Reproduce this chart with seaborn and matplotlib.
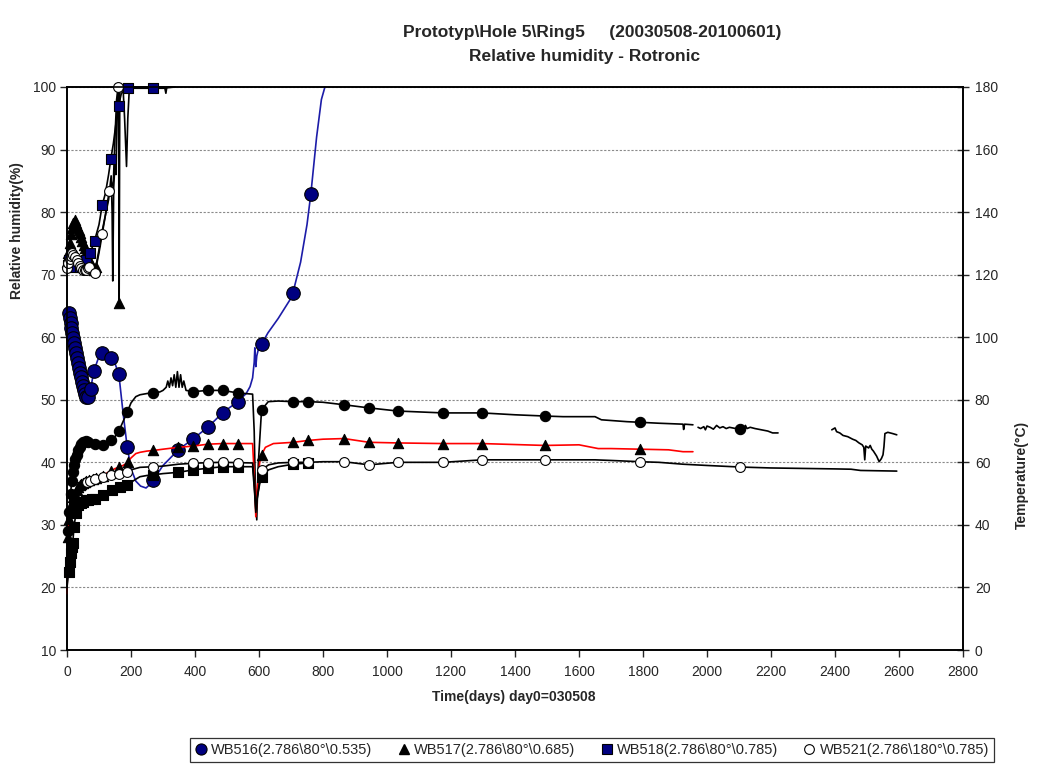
import matplotlib
matplotlib.use("Agg")
import matplotlib.pyplot as plt
from matplotlib.lines import Line2D
import seaborn as sns

# ---------------- relative humidity (%) ----------------
rh516_day = [5, 8, 11, 14, 17, 20, 23, 26, 29, 32, 35, 38, 41, 44, 47, 50, 53, 56, 60, 66,
             74, 84, 97, 110, 124, 137, 150, 162, 175, 188, 200, 215, 230, 247, 260, 270, 300,
             348, 395, 440, 486, 533, 560, 572, 580, 585, 587, 590, 593, 600, 608, 628, 660,
             697, 706, 730, 750, 762, 780, 795, 806]
rh516 = [63.9, 63.1, 62.3, 61.5, 60.7, 59.9, 59.1, 58.3, 57.5, 56.7, 55.9, 55.1, 54.3, 53.6,
         52.9, 52.2, 51.5, 51.0, 50.5, 50.4, 51.8, 54.6, 56.5, 57.4, 57.2, 56.7, 55.8, 54.1,
         48.0, 42.5, 39.0, 37.0, 36.2, 35.9, 36.5, 37.2, 39.5, 42.0, 43.8, 45.6, 47.9, 49.7,
         51.0, 52.1, 53.5, 56.0, 58.3, 55.3, 57.0, 58.5, 58.9, 60.7, 63.0, 66.0, 67.1, 72.0,
         78.0, 82.9, 92.0, 98.0, 100.0]
rh516_marks = [5, 8, 11, 14, 17, 20, 23, 26, 29, 32, 35, 38, 41, 44, 47, 50, 53, 56, 60, 66,
               74, 84, 110, 137, 162, 188, 270, 348, 395, 440, 486, 533, 608, 706, 762]

rh517_day = [0, 4, 8, 12, 16, 20, 24, 28, 32, 36, 40, 44, 48, 52, 56, 60, 64, 68, 72, 76,
             80, 85, 90, 100, 110, 120, 130, 138, 141, 143, 146, 150, 153, 156, 159, 161, 163,
             165, 170, 200, 250, 305, 309, 312, 337]
rh517 = [72.0, 73.5, 75.0, 76.5, 77.5, 78.3, 78.7, 78.3, 77.8, 77.2, 76.6, 76.0, 75.4, 74.8,
         74.2, 73.6, 73.0, 72.5, 72.0, 71.5, 71.0, 70.8, 71.2, 74.0, 77.0, 79.5, 82.0, 85.8,
         80.0, 69.0, 84.0, 88.0, 86.0, 95.0, 100.0, 100.0, 65.5, 100.0, 100.0, 100.0, 100.0,
         100.0, 99.0, 100.0, 100.0]
rh517_marks = [0, 4, 8, 12, 16, 20, 24, 28, 32, 36, 40, 44, 48, 52, 56, 60, 64, 68, 72, 76,
               80, 85, 90, 163]

rh518_day = [0, 3, 7, 12, 20, 30, 40, 50, 60, 72, 86, 100, 110, 120, 130, 137, 145, 150, 155,
             161, 170, 190, 230, 269, 300, 337]
rh518 = [70.5, 71.5, 72.3, 71.8, 71.2, 71.0, 71.3, 71.8, 72.4, 73.4, 75.4, 78.0, 81.1, 83.0,
         86.0, 88.5, 91.0, 93.0, 95.0, 97.0, 99.0, 99.8, 99.8, 99.8, 99.8, 100.0]
rh518_marks = [3, 7, 20, 40, 60, 72, 86, 110, 137, 161, 190, 269]

rh521_day = [0, 4, 8, 12, 16, 20, 25, 30, 35, 40, 45, 50, 55, 60, 65, 70, 78, 87, 100, 110,
             120, 132, 140, 145, 150, 155, 160, 175, 180, 186, 190, 195, 210, 240]
rh521 = [71.0, 71.8, 72.5, 73.0, 73.5, 73.2, 72.8, 72.3, 71.8, 71.4, 71.0, 70.8, 70.7, 70.8,
         71.0, 71.3, 70.8, 70.2, 73.5, 76.5, 79.5, 83.3, 84.0, 85.0, 92.0, 98.0, 100.0, 100.0,
         95.0, 87.3, 95.0, 100.0, 100.0, 100.0]
rh521_marks = [0, 4, 8, 12, 16, 20, 25, 30, 35, 40, 45, 50, 55, 60, 65, 70, 87, 110, 132, 160]

# ---------------- temperature (°C) ----------------
t516_day = [0, 3, 7, 11, 15, 19, 22, 25, 30, 35, 40, 45, 51, 58, 67, 77, 87, 100, 112, 125,
            137, 150, 162, 175, 188, 200, 215, 228, 250, 270, 290, 300, 310, 315, 320, 325,
            330, 335, 340, 345, 350, 355, 360, 365, 372, 395, 440, 486, 533, 580, 585, 588,
            593, 598, 608, 629, 660, 707, 754, 800, 866, 944, 1034, 1175, 1297, 1400, 1494,
            1550, 1650, 1670, 1750, 1791, 1850, 1925, 1927, 1930, 1956]
t516 = [28, 38, 44, 50, 54, 57, 59, 61, 62.5, 64, 65, 65.8, 66.4, 66.8, 66.6, 66.2, 65.8,
        65.6, 65.6, 66.2, 67, 68.2, 70, 73, 76, 79, 81, 81.6, 82, 82.3, 82.5, 83, 84, 86, 84,
        87, 84.5, 88, 84, 89, 84, 88, 84, 86, 83, 82.6, 83, 83, 82.2, 81.8, 70, 55, 41.6, 60,
        76.8, 79.4, 79.6, 79.4, 79.4, 79.2, 78.4, 77.4, 76.4, 75.8, 75.8, 75.2, 74.8, 74.6,
        74.6, 73.6, 73.0, 72.8, 72.5, 72.2, 70.5, 72.2, 72.0]
t516b_day = [1972, 1980, 1990, 1995, 2000, 2010, 2020, 2030, 2040, 2050, 2060, 2070, 2080,
             2090, 2103, 2115, 2120, 2125, 2135, 2150, 2170, 2190, 2205, 2222]
t516b = [71.2, 70.8, 71.4, 70.4, 71.6, 71.2, 70.6, 71.8, 71.0, 71.4, 70.8, 71.2, 71.0, 70.8,
         70.8, 70.6, 71.8, 70.8, 71.2, 70.8, 70.4, 70.0, 69.4, 69.4]
t516c_day = [2390, 2400, 2405, 2415, 2425, 2440, 2455, 2465, 2475, 2485, 2490, 2493, 2496,
             2505, 2510, 2515, 2520, 2530, 2538, 2545, 2550, 2553, 2556, 2565, 2580, 2593]
t516c = [70.4, 71.0, 69.8, 69.4, 68.6, 68.2, 67.4, 67.0, 66.2, 65.6, 64.8, 60.8, 65.2, 64.6,
         65.4, 64.2, 63.6, 62.0, 60.2, 61.2, 62.4, 65.0, 69.2, 69.6, 69.2, 68.8]
t516_marks = [3, 7, 11, 15, 19, 22, 25, 30, 35, 40, 45, 51, 58, 67, 87, 112, 137, 162, 188,
              270, 395, 440, 486, 533, 608, 707, 754, 866, 944, 1034, 1175, 1297, 1494, 1791,
              2103]

t517_day = [0, 2, 4, 7, 11, 15, 20, 25, 30, 35, 40, 45, 50, 55, 60, 70, 80, 90, 100, 112,
            125, 137, 150, 162, 175, 185, 190, 200, 215, 228, 250, 270, 300, 348, 395, 440,
            486, 533, 580, 585, 590, 595, 602, 608, 620, 645, 707, 754, 800, 866, 944, 1034,
            1175, 1297, 1494, 1600, 1660, 1700, 1791, 1880, 1925, 1956]
t517 = [18, 28, 36, 42, 45, 47, 49, 50, 51, 52, 52.6, 53, 53.4, 53.8, 54, 54.4, 54.8, 55,
        55.2, 55.6, 56.6, 57.2, 58, 58.4, 59, 59.6, 60.2, 61.4, 62.8, 63.2, 63.6, 63.8, 64.2,
        64.8, 65.2, 65.8, 66, 66, 66, 56, 42.6, 52, 60, 62.4, 64.8, 66, 66.4, 67, 67.4, 67.6,
        66.4, 66.2, 66, 66, 65.4, 65.6, 64.4, 64.4, 64.2, 64, 63.4, 63.4]
t517_marks = [4, 7, 11, 15, 20, 25, 30, 35, 40, 45, 50, 55, 60, 70, 80, 90, 112, 137, 162,
              190, 270, 348, 395, 440, 486, 533, 608, 707, 754, 866, 944, 1034, 1175, 1297,
              1494, 1791]

t518_day = [0, 3, 6, 9, 12, 15, 18, 22, 28, 35, 43, 51, 59, 67, 77, 87, 100, 113, 126, 140,
            153, 166, 177, 188, 200, 215, 228, 250, 270, 300, 348, 395, 440, 486, 533, 580,
            585, 590, 595, 602, 608, 630, 660, 707, 754]
t518 = [20, 23, 24.8, 28, 31, 33, 34.2, 39.4, 43.8, 46.4, 47, 47.4, 47.8, 48, 48.2, 48.4,
        49, 49.6, 50.4, 51.2, 51.6, 52, 52.4, 52.8, 53.6, 54.6, 55.4, 55.8, 56, 56.4, 56.8,
        57.6, 58.1, 58.6, 58.6, 58.6, 52, 45, 49, 53, 55.4, 57.6, 58.6, 59.4, 59.8]
t518_marks = [6, 9, 12, 15, 18, 22, 28, 35, 43, 51, 59, 67, 77, 87, 113, 140, 166, 188, 270,
              348, 395, 440, 486, 533, 608, 707, 754]

t521_day = [0, 3, 6, 10, 14, 18, 23, 28, 34, 40, 47, 55, 63, 72, 87, 100, 112, 125, 137, 150,
            162, 175, 188, 200, 228, 270, 300, 348, 395, 440, 486, 533, 580, 585, 590, 595,
            602, 608, 630, 660, 707, 754, 800, 866, 944, 1034, 1175, 1297, 1494, 1600, 1650,
            1700, 1791, 1850, 1925, 2000, 2103, 2200, 2400, 2450, 2480, 2593]
t521 = [20, 28, 34, 39, 42, 45, 47, 48.6, 50, 51.2, 52.2, 53, 53.6, 54, 54.6, 55, 55.4, 55.6,
        56, 56.2, 56.4, 56.8, 57, 57.6, 58.4, 58.6, 58.8, 59.4, 59.7, 59.9, 60, 59.9, 59.8, 54,
        44, 49, 54, 57.6, 59.2, 59.8, 60, 60, 60.2, 60.2, 59.2, 60, 60, 60.8, 60.8, 60.8, 60.8,
        60.6, 60.2, 60.0, 59.4, 59.0, 58.5, 58.2, 57.9, 57.8, 57.4, 57.2]
t521_marks = [63, 72, 87, 112, 137, 162, 188, 270, 395, 440, 486, 533, 608, 707, 754, 866,
              944, 1034, 1175, 1297, 1494, 1791, 2103]

legend_labels = ["WB516(2.786\\80°\\0.535)", "WB517(2.786\\80°\\0.685)",
                 "WB518(2.786\\80°\\0.785)", "WB521(2.786\\180°\\0.785)"]
x_ticks = list(range(0, 2801, 200))
rh_ticks = list(range(10, 101, 10))
t_ticks = list(range(0, 181, 20))

NAVY = "#000080"
BLUE = "#1c1ca8"
RED = "#ff0000"

sns.set_style("ticks")
plt.rcParams["font.family"] = ["Liberation Sans", "DejaVu Sans"]

fig = plt.figure(figsize=(10.39, 7.76), dpi=100)
ax = fig.add_axes([67 / 1039, 1 - 650 / 776, 896 / 1039, 563 / 776])
ax2 = ax.twinx()


def pick(days, vals, marks):
    sel = [(d, v) for d, v in zip(days, vals) if d in marks]
    return [d for d, _ in sel], [v for _, v in sel]


def draw_line(axis, days, vals, color, lw=1.2):
    sns.lineplot(x=days, y=vals, ax=axis, color=color, lw=lw, estimator=None,
                 sort=False, clip_on=False)


def draw_marks(axis, days, vals, marks, marker, size, face, edge="black", lw=0.8):
    mx, my = pick(days, vals, marks)
    sns.scatterplot(x=mx, y=my, ax=axis, marker=marker, s=size, color=face,
                    edgecolor=edge, linewidth=lw, clip_on=False, zorder=5)


# relative humidity on the left axis
draw_line(ax, rh516_day, rh516, BLUE)
draw_line(ax, rh517_day, rh517, "black")
draw_line(ax, rh518_day, rh518, "black")
draw_line(ax, rh521_day, rh521, "black")
draw_marks(ax, rh516_day, rh516, rh516_marks, "o", 95, NAVY)
draw_marks(ax, rh517_day, rh517, rh517_marks, "^", 55, "black")
draw_marks(ax, rh518_day, rh518, rh518_marks, "s", 48, NAVY)
draw_marks(ax, rh521_day, rh521, rh521_marks, "o", 50, "white")

# temperature on the right axis
draw_line(ax2, t516_day, t516, "black")
draw_line(ax2, t516b_day, t516b, "black")
draw_line(ax2, t516c_day, t516c, "black")
draw_line(ax2, t517_day, t517, RED)
draw_line(ax2, t518_day, t518, "black")
draw_line(ax2, t521_day, t521, "black")
draw_marks(ax2, t516_day + t516b_day, t516 + t516b, t516_marks, "o", 55, "black")
draw_marks(ax2, t517_day, t517, t517_marks, "^", 55, "black")
draw_marks(ax2, t518_day, t518, t518_marks, "s", 45, "black")
draw_marks(ax2, t521_day, t521, t521_marks, "o", 50, "white")

# axes, ticks and grid
ax.set_xlim(0, 2800)
ax.set_ylim(10, 100)
ax2.set_ylim(0, 180)
ax.set_xticks(x_ticks)
ax.set_yticks(rh_ticks)
ax2.set_yticks(t_ticks)
ax.set_xlabel("")
ax.set_ylabel("")
ax2.set_ylabel("")
ax.yaxis.grid(True, color="#8a8a8a", linestyle=(0, (2, 1.5)), linewidth=0.8)
ax.xaxis.grid(False)
ax.set_axisbelow(True)

for a in (ax, ax2):
    for side in ("left", "right", "bottom", "top"):
        a.spines[side].set_visible(True)
        a.spines[side].set_color("black")
        a.spines[side].set_linewidth(1.2)

ax.tick_params(axis="x", direction="out", length=5, width=1, labelsize=10, pad=6)
ax.tick_params(axis="y", direction="out", length=5, width=1, labelsize=10, pad=3)
ax2.tick_params(axis="y", direction="inout", length=9, width=1, labelsize=10, pad=4)

# titles and axis labels
fig.text(592 / 1039, 1 - 33 / 776, "Prototyp\\Hole 5\\Ring5     (20030508-20100601)",
         ha="center", va="center", fontsize=12.5, fontweight="bold")
fig.text(585 / 1039, 1 - 56 / 776, "Relative humidity - Rotronic",
         ha="center", va="center", fontsize=12.5, fontweight="bold")
fig.text(17 / 1039, 1 - 231 / 776, "Relative humidity(%)", rotation=90,
         ha="center", va="center", fontsize=10, fontweight="bold")
fig.text(1022 / 1039, 1 - 475 / 776, "Temperature(°C)", rotation=90,
         ha="center", va="center", fontsize=10, fontweight="bold")
fig.text(514 / 1039, 1 - 697 / 776, "Time(days) day0=030508",
         ha="center", va="center", fontsize=10, fontweight="bold")

# legend
handles = [
    Line2D([], [], linestyle="none", marker="o", markersize=8, markerfacecolor=NAVY,
           markeredgecolor="black", markeredgewidth=0.8),
    Line2D([], [], linestyle="none", marker="^", markersize=7, markerfacecolor="black",
           markeredgecolor="black"),
    Line2D([], [], linestyle="none", marker="s", markersize=7, markerfacecolor=NAVY,
           markeredgecolor="black", markeredgewidth=0.8),
    Line2D([], [], linestyle="none", marker="o", markersize=7, markerfacecolor="white",
           markeredgecolor="black", markeredgewidth=0.8),
]
leg = fig.legend(handles, legend_labels, loc="center", bbox_to_anchor=(592 / 1039, 1 - 750 / 776),
                 ncol=4, frameon=True, fancybox=False, fontsize=10.5, handlelength=0.8,
                 handletextpad=0.3, columnspacing=1.75, borderpad=0.35)
leg.get_frame().set_edgecolor("black")
leg.get_frame().set_linewidth(0.9)

fig.savefig("out.png", dpi=100)
